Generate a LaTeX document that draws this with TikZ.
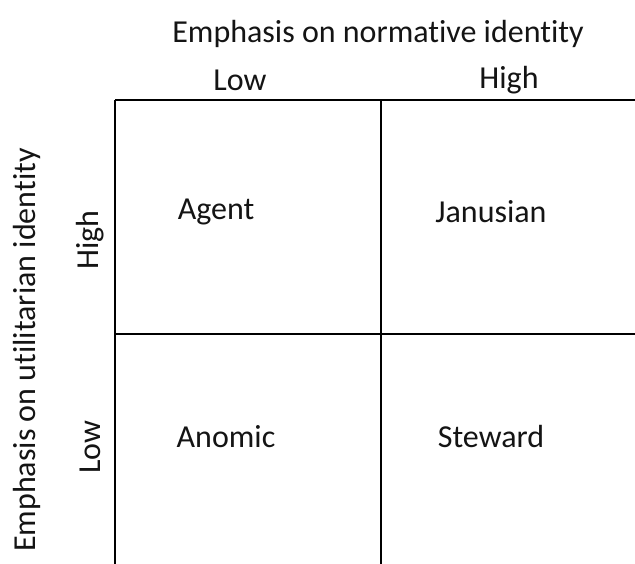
\documentclass[tikz,border=0pt]{standalone}
\usepackage{fontspec}
\setmainfont[Ligatures={NoCommon}]{Carlito}

\tikzset{every picture/.style={line width=1.5pt}}
\tikzset{lbl/.style={inner sep=0.75pt,font=\fontsize{32}{38}\selectfont,color={rgb, 255:red, 20; green, 20; blue, 20}}}

\begin{document}
\begin{tikzpicture}[x=1pt,y=1pt,yscale=-1,xscale=1]
\useasboundingbox (0,0) rectangle (635,564);

%Straight Lines
\draw    (115,100) -- (635,100) ;
\draw    (115,334) -- (635,334) ;
\draw    (115,100) -- (115,564) ;
\draw    (381,100) -- (381,564) ;

% Text Node
\node [lbl] (ntitle) at (378,34) {Emphasis on normative identity};
\node [lbl] (nlow) at (240,80) {Low};
\node [lbl] (nhigh) at (509,80) {High};
% Text Node
\node [lbl,rotate=90] (utitle) at (27,350) {Emphasis on utilitarian identity};
\node [lbl,rotate=90] (uhigh) at (90,240) {High};
\node [lbl,rotate=90] (ulow) at (90,447) {Low};
% Text Node
\node [lbl] (agent) at (216,212) {Agent};
\node [lbl] (janusian) at (491,212) {Janusian};
\node [lbl] (anomic) at (226,437) {Anomic};
\node [lbl] (steward) at (491,437) {Steward};

\end{tikzpicture}
\end{document}
